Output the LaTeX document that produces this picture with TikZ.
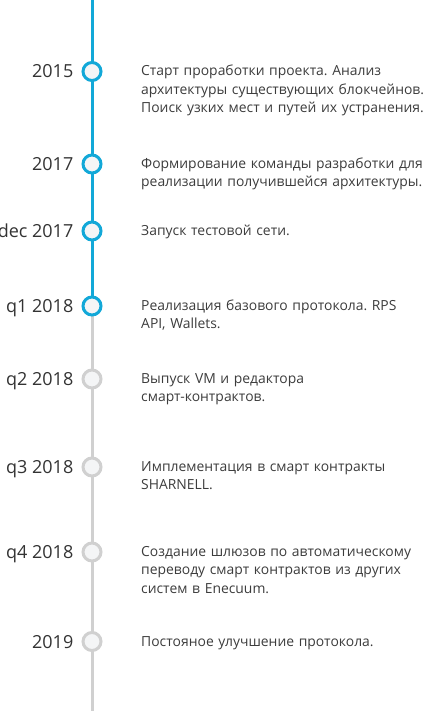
\documentclass[tikz,border=0pt]{standalone}
\usepackage{fontspec}
\setmainfont{Open Sans}
\frenchspacing
\definecolor{tlblue}{HTML}{12A8D8}
\definecolor{tlgray}{HTML}{D0D0D0}
\definecolor{dotfill}{HTML}{F4F5F6}
\definecolor{lbltxt}{HTML}{333333}
\definecolor{desctxt}{HTML}{3C3C3C}
\begin{document}
\begin{tikzpicture}[x=1pt,y=-1pt,
  dotdone/.style={circle,draw=tlblue,line width=3pt,fill=dotfill,minimum size=18pt,inner sep=0pt},
  dotnext/.style={circle,draw=tlgray,line width=3pt,fill=dotfill,minimum size=18pt,inner sep=0pt},
  yearlbl/.style={anchor=base east,inner sep=0pt,text=lbltxt,font=\fontsize{18}{22}\selectfont},
  desc/.style={anchor=base west,inner sep=0pt,text=desctxt,align=left,text width=300pt,font=\fontsize{13.9}{18.3}\selectfont},
  blueline/.style={draw=tlblue,line width=3pt},
  grayline/.style={draw=tlgray,line width=3pt}]
\useasboundingbox (0,0) rectangle (423,711);
\coordinate (top) at (92,0);
\coordinate (bot) at (92,711);
\coordinate (c1) at (92,71.5);
\coordinate (c2) at (92,164);
\coordinate (c3) at (92,231);
\coordinate (c4) at (92,306);
\coordinate (c5) at (92,379);
\coordinate (c6) at (92,467);
\coordinate (c7) at (92,552);
\coordinate (c8) at (92,641.5);
\draw[blueline] (top) -- (c4);
\draw[grayline] (c4) -- (bot);
\node[dotdone] (d1) at (c1) {};
\node[dotdone] (d2) at (c2) {};
\node[dotdone] (d3) at (c3) {};
\node[dotdone] (d4) at (c4) {};
\node[dotnext] (d5) at (c5) {};
\node[dotnext] (d6) at (c6) {};
\node[dotnext] (d7) at (c7) {};
\node[dotnext] (d8) at (c8) {};
\node[yearlbl] (y1) at ([yshift=-6.5pt]c1 -| 73.5,0) {2015};
\node[yearlbl] (y2) at ([yshift=-6.5pt]c2 -| 73.5,0) {2017};
\node[yearlbl] (y3) at ([yshift=-6.5pt]c3 -| 73.5,0) {dec 2017};
\node[yearlbl] (y4) at ([yshift=-6.5pt]c4 -| 73.5,0) {q1 2018};
\node[yearlbl] (y5) at ([yshift=-6.5pt]c5 -| 73.5,0) {q2 2018};
\node[yearlbl] (y6) at ([yshift=-6.5pt]c6 -| 73.5,0) {q3 2018};
\node[yearlbl] (y7) at ([yshift=-6.5pt]c7 -| 73.5,0) {q4 2018};
\node[yearlbl] (y8) at ([yshift=-6.5pt]c8 -| 73.5,0) {2019};
\node[desc] (t1) at ([yshift=-4.5pt]c1 -| 141,0) {Старт проработки проекта. Анализ\\архитектуры существующих блокчейнов.\\Поиск узких мест и путей их устранения.};
\node[desc] (t2) at ([yshift=-4.5pt]c2 -| 141,0) {Формирование команды разработки для\\реализации получившейся архитектуры.};
\node[desc] (t3) at ([yshift=-4.5pt]c3 -| 141,0) {Запуск тестовой сети.};
\node[desc] (t4) at ([yshift=-4.5pt]c4 -| 141,0) {Реализация базового протокола. RPS\\API, Wallets.};
\node[desc] (t5) at ([yshift=-4.5pt]c5 -| 141,0) {Выпуск VM и редактора\\смарт-контрактов.};
\node[desc] (t6) at ([yshift=-4.5pt]c6 -| 141,0) {Имплементация в смарт контракты\\SHARNELL.};
\node[desc] (t7) at ([yshift=-4.5pt]c7 -| 141,0) {Создание шлюзов по автоматическому\\переводу смарт контрактов из других\\систем в Enecuum.};
\node[desc] (t8) at ([yshift=-4.5pt]c8 -| 141,0) {Постояное улучшение протокола.};
\end{tikzpicture}
\end{document}
